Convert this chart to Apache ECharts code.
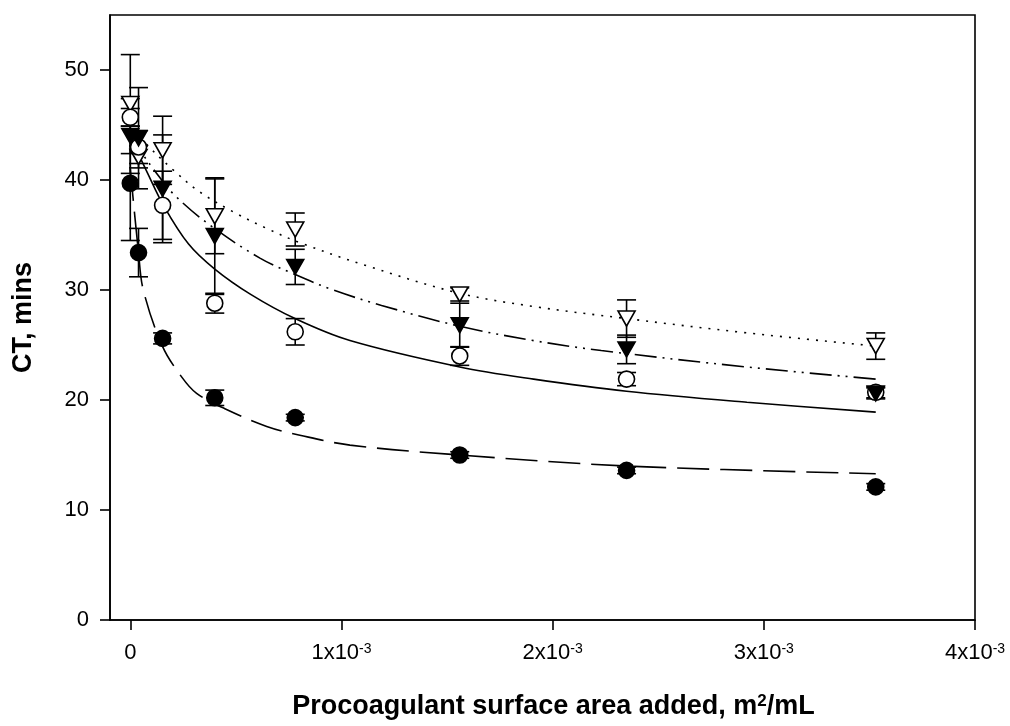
<!DOCTYPE html>
<html><head><meta charset="utf-8">
<script src="https://cdn.jsdelivr.net/npm/echarts@6/dist/echarts.min.js"></script>
<style>html,body{margin:0;padding:0;background:#fff}#c{width:1010px;height:726px}</style>
</head><body><div id="c"></div>
<script>
// ---- data ----
const xValues = [0, 0.000039, 0.000153, 0.000400, 0.000781, 0.00156, 0.00235, 0.00353];

const filledCircle    = [39.7, 33.4, 25.6, 20.2, 18.4, 15.0, 13.6, 12.1];
const filledCircleErr = [5.2, 2.2, 0.5, 0.7, 0.3, 0.3, 0.3, 0.3];
const openCircle      = [45.7, 43.0, 37.7, 28.8, 26.2, 24.0, 21.9, 20.7];
const openCircleErr   = [0.8, 1.5, 3.1, 0.9, 1.2, 0.85, 0.6, 0.5];
const filledTri       = [44.0, 43.8, 39.2, 34.9, 32.1, 26.8, 24.6, 20.6];
const filledTriErr    = [3.4, 4.6, 4.9, 5.3, 1.6, 2.0, 1.3, 0.5];
const openTri         = [46.9, 42.1, 42.7, 36.7, 35.5, 29.6, 27.4, 24.9];
const openTriErr      = [4.5, 1.0, 3.1, 3.4, 1.5, 0.6, 1.7, 1.2];

// fitted curves, points
const fitFilledCircle = [[0,41.0],[0.000039,33.4],[0.0000616,30.0],[0.000152,24.9],[0.000243,22.1],[0.000314,20.6],[0.000448,19.2],[0.000646,17.6],[0.000803,16.8],[0.00104,15.9],[0.00156,15.0],[0.00235,14.0],[0.00353,13.3]];
const fitOpenCircle = [[0,44.0],[0.00004,42.3],[0.00008,40.7],[0.000157,37.7],[0.000275,34.2],[0.0004,31.9],[0.00057,29.6],[0.00078,27.4],[0.00104,25.4],[0.00156,23.0],[0.00191,21.9],[0.00235,20.8],[0.00292,19.8],[0.00353,18.9]];
const fitFilledTri = [[0,44.3],[0.00004,42.9],[0.000117,40.8],[0.000211,38.6],[0.000377,35.9],[0.000614,32.9],[0.000781,31.4],[0.000961,30.0],[0.00119,28.6],[0.00156,26.7],[0.00191,25.4],[0.00223,24.5],[0.00292,23.0],[0.00353,21.9]];
const fitOpenTri = [[0,45.2],[0.00006,43.6],[0.000204,40.9],[0.000330,38.9],[0.000488,37.1],[0.000646,35.6],[0.000803,34.3],[0.00112,32.2],[0.00156,29.7],[0.00191,28.5],[0.00235,27.4],[0.00292,26.1],[0.00353,24.9]];

const xTicks = [0, 0.001, 0.002, 0.003, 0.004];
const xTickLabels = ['0', '1x10{s|-3}', '2x10{s|-3}', '3x10{s|-3}', '4x10{s|-3}'];
const yTicks = [0, 10, 20, 30, 40, 50];

// ---- chart ----
const FONT = 'Liberation Sans, Arial, sans-serif';
const chart = echarts.init(document.getElementById('c'));

function pairs(vals) { return xValues.map((x, i) => [x, vals[i]]); }

function errSeries(vals, errs) {
  return {
    type: 'custom', silent: true, z: 3,
    data: xValues.map((x, i) => [x, vals[i] - errs[i], vals[i] + errs[i]]),
    encode: { x: 0, y: [1, 2] },
    renderItem: (params, api) => {
      const lo = api.coord([api.value(0), api.value(1)]);
      const hi = api.coord([api.value(0), api.value(2)]);
      const w = 9.5, st = { stroke: '#000', lineWidth: 1.6 };
      return { type: 'group', children: [
        { type: 'line', shape: { x1: lo[0], y1: lo[1], x2: hi[0], y2: hi[1] }, style: st },
        { type: 'line', shape: { x1: lo[0] - w, y1: lo[1], x2: lo[0] + w, y2: lo[1] }, style: st },
        { type: 'line', shape: { x1: hi[0] - w, y1: hi[1], x2: hi[0] + w, y2: hi[1] }, style: st }
      ]};
    }
  };
}

function fitSeries(data, dash) {
  return {
    type: 'line', data: data, showSymbol: false, symbol: 'none', silent: true, z: 2,
    smooth: 0.35,
    lineStyle: { color: '#000', width: 1.6, type: dash }
  };
}

function markSeries(vals, symbol, size, fill, rot) {
  return {
    type: 'scatter', data: pairs(vals), symbol: symbol, symbolSize: size, symbolRotate: rot || 0,
    silent: true, z: 5,
    itemStyle: { color: fill, borderColor: '#000', borderWidth: 1.6, opacity: 1 }
  };
}

chart.setOption({
  animation: false,
  backgroundColor: '#fff',
  textStyle: { fontFamily: FONT },
  grid: { left: 110, right: 35, top: 15, bottom: 106, show: true, borderColor: '#000', borderWidth: 1.6, containLabel: false },
  xAxis: {
    type: 'value', min: -0.0000961, max: 0.004,
    splitLine: { show: false },
    axisLine: { show: true, onZero: false, lineStyle: { color: '#000', width: 1.6 } },
    axisTick: { show: true, customValues: xTicks, length: 10, inside: false, lineStyle: { color: '#000', width: 1.6 } },
    axisLabel: {
      customValues: xTicks, margin: 22, color: '#000', fontSize: 22, fontFamily: FONT,
      formatter: (v) => { const i = xTicks.indexOf(v); return i >= 0 ? xTickLabels[i] : ''; },
      rich: { s: { fontSize: 14, fontFamily: FONT, color: '#000', verticalAlign: 'bottom', padding: [0, 0, 8, 0] } }
    },
    name: 'Procoagulant surface area added, m{s|2}/mL',
    nameLocation: 'middle', nameGap: 73,
    nameTextStyle: { fontSize: 27, fontWeight: 'bold', color: '#000', fontFamily: FONT, padding: [0, 0, 0, 22],
      rich: { s: { fontSize: 17, fontWeight: 'bold', fontFamily: FONT, color: '#000', verticalAlign: 'bottom', padding: [0, 0, 11, 0] } } }
  },
  yAxis: {
    type: 'value', min: 0, max: 55,
    splitLine: { show: false },
    axisLine: { show: true, onZero: false, lineStyle: { color: '#000', width: 1.6 } },
    axisTick: { show: true, customValues: yTicks, length: 10, inside: false, lineStyle: { color: '#000', width: 1.6 } },
    axisLabel: { customValues: yTicks, margin: 21, color: '#000', fontSize: 22, fontFamily: FONT },
    name: 'CT, mins', nameLocation: 'middle', nameGap: 73,
    nameTextStyle: { fontSize: 27, fontWeight: 'bold', color: '#000', fontFamily: FONT }
  },
  series: [
    fitSeries(fitFilledCircle, [32, 11]),
    fitSeries(fitOpenCircle, 'solid'),
    fitSeries(fitFilledTri, [22, 6, 2, 6, 2, 6]),
    fitSeries(fitOpenTri, [2, 7]),
    errSeries(openTri, openTriErr),
    errSeries(filledTri, filledTriErr),
    errSeries(openCircle, openCircleErr),
    errSeries(filledCircle, filledCircleErr),
    markSeries(openTri, 'triangle', [17, 15], '#fff', 180),
    markSeries(openCircle, 'circle', 16, '#fff'),
    markSeries(filledTri, 'triangle', [17, 15], '#000', 180),
    markSeries(filledCircle, 'circle', 16, '#000')
  ]
});
</script>
</body></html>
